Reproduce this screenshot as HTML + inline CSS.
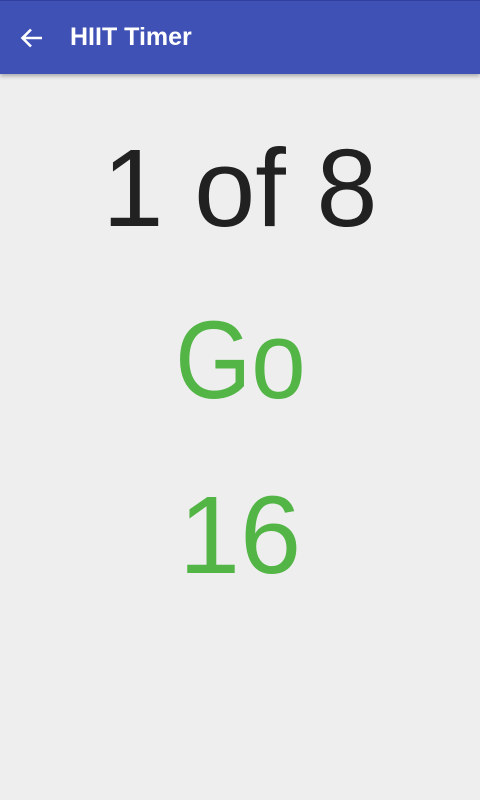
<!DOCTYPE html>
<html><head><meta charset="utf-8"><style>
html,body{margin:0;padding:0;width:480px;height:800px;overflow:hidden;background:#EEEEEE;font-family:"Liberation Sans",sans-serif;}
.bar{position:absolute;left:0;top:0;width:480px;height:74px;background:#3F51B5;box-shadow:0 2px 4px rgba(0,0,0,0.3);border-top:1px solid #303F9F;box-sizing:border-box;}
.title{position:absolute;left:70px;top:21px;color:#fff;font-weight:bold;font-size:25px;line-height:30px;}
.back{position:absolute;left:18px;top:25px;width:28px;height:24px;}
.big{position:absolute;left:0;width:480px;text-align:center;line-height:1;}
</style></head><body>
<div class="bar">
<svg class="back" viewBox="0 0 28 24"><path d="M24 12H5M13 3.5L4.5 12L13 20.5" stroke="#fff" stroke-width="2.6" fill="none"/></svg>
<div class="title">HIIT Timer</div>
</div>
<div class="big" style="top:134px;font-size:110px;color:#212121;">1 of 8</div>
<div class="big" style="top:306px;font-size:110px;color:#52B545;"><span style="display:inline-block;transform:scaleX(0.89);">Go</span></div>
<div class="big" style="top:481px;font-size:110px;color:#52B545;">16</div>
</body></html>
